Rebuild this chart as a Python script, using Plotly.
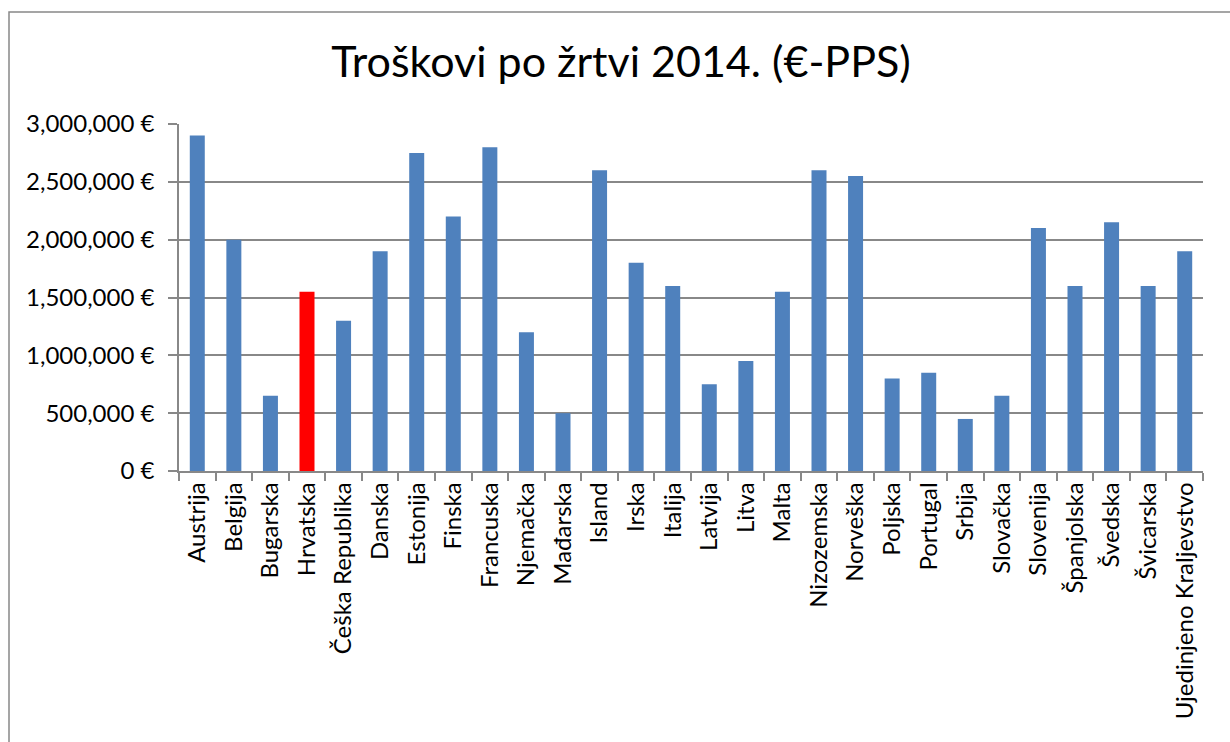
import plotly.graph_objects as go

# Podaci
zemlje = ['Austrija', 'Belgija', 'Bugarska', 'Hrvatska', 'Češka Republika', 'Danska',
          'Estonija', 'Finska', 'Francuska', 'Njemačka', 'Mađarska', 'Island', 'Irska',
          'Italija', 'Latvija', 'Litva', 'Malta', 'Nizozemska', 'Norveška', 'Poljska',
          'Portugal', 'Srbija', 'Slovačka', 'Slovenija', 'Španjolska', 'Švedska',
          'Švicarska', 'Ujedinjeno Kraljevstvo']
troskovi = [2900000, 2000000, 650000, 1550000, 1300000, 1900000,
            2750000, 2200000, 2800000, 1200000, 500000, 2600000, 1800000,
            1600000, 750000, 950000, 1550000, 2600000, 2550000, 800000,
            850000, 450000, 650000, 2100000, 1600000, 2150000,
            1600000, 1900000]
y_tickovi = [0, 500000, 1000000, 1500000, 2000000, 2500000, 3000000]
y_oznake = [f'{v:,} €' for v in y_tickovi]

boje = ['#FF0000' if z == 'Hrvatska' else '#4F81BD' for z in zemlje]

siva = '#888888'
font = 'Lato, Calibri, sans-serif'

fig = go.Figure(go.Bar(x=zemlje, y=troskovi, marker=dict(color=boje, line=dict(width=0))))

fig.update_layout(
    width=1230, height=742,
    margin=dict(l=179, r=27, t=124, b=271),
    paper_bgcolor='white', plot_bgcolor='white',
    bargap=0.59,
    showlegend=False,
    font=dict(family=font, color='black'),
    title=dict(text='Troškovi po žrtvi 2014. (€-PPS)', x=621 / 1230, xanchor='center',
               y=1 - 62 / 742, yanchor='middle', yref='container',
               font=dict(size=43, family=font, color='black')),
    xaxis=dict(type='category', showgrid=False, showline=True, linecolor=siva, linewidth=1.5,
               ticks='outside', tickson='boundaries', ticklen=8, tickcolor=siva, tickwidth=1.5,
               tickangle=-90, tickfont=dict(size=24)),
    yaxis=dict(range=[0, 3000000], tickvals=y_tickovi, ticktext=y_oznake,
               showgrid=True, gridcolor=siva, gridwidth=1.5, zeroline=False,
               showline=True, linecolor=siva, linewidth=1.5,
               ticks='outside', ticklen=9, tickcolor=siva, tickwidth=1.5,
               ticklabelstandoff=9, tickfont=dict(size=24)),
    shapes=[dict(type='rect', xref='paper', yref='paper',
                 x0=(9 - 179) / 1024, x1=1.2, y0=-1.2, y1=(471 - 12) / 347,
                 line=dict(color=siva, width=1.5), fillcolor='rgba(0,0,0,0)', layer='below')],
)

fig.write_html('out.html', config={'displayModeBar': False},
               post_script="document.body.style.margin='0';")
